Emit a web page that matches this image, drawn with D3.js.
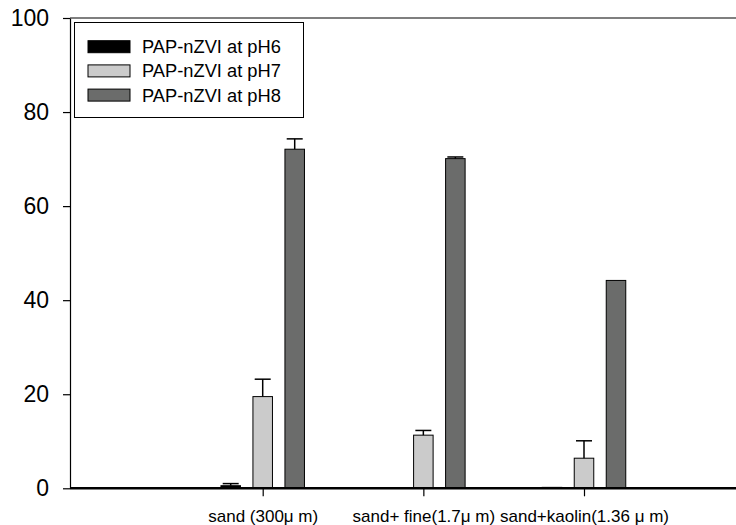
<!DOCTYPE html>
<html>
<head>
<meta charset="utf-8">
<script src="https://cdn.jsdelivr.net/npm/d3@7"></script>
<style>
  html, body { margin: 0; padding: 0; background: #fff; }
  svg { display: block; font-family: "Liberation Sans", Arial, sans-serif; }
</style>
</head>
<body>
<svg id="chart" width="736" height="525"></svg>
<script>
// Soil media and treatment series
const categories = ["sand (300\u03bc m)", "sand+ fine(1.7\u03bc m)", "sand+kaolin(1.36 \u03bc m)"];
const seriesNames = ["PAP-nZVI at pH6", "PAP-nZVI at pH7", "PAP-nZVI at pH8"];
const seriesColors = ["#000000", "#cbcbcb", "#6b6c6b"];
const pH6 = [0.55, 0, 0.2];
const pH7 = [19.5, 11.3, 6.4];
const pH8 = [72.1, 70.1, 44.2];
const pH6Err = [0.45, 0, 0];
const pH7Err = [3.7, 1.0, 3.7];
const pH8Err = [2.2, 0.35, 0];
const yTicks = [0, 20, 40, 60, 80, 100];

const values = [pH6, pH7, pH8];
const errors = [pH6Err, pH7Err, pH8Err];

const svg = d3.select("#chart");
const plotLeft = 70, plotRight = 736, plotTop = 18, plotBottom = 488.3;

const y = d3.scaleLinear().domain([0, 100]).range([plotBottom, plotTop]);
const x = d3.scalePoint().domain(categories).range([262.7, 584]);
const xs = d3.scaleBand().domain(seriesNames).range([-48, 48])
  .paddingInner(0.39).paddingOuter(0.195);

// bars
const rows = [];
seriesNames.forEach((s, si) => {
  categories.forEach((c, ci) => {
    rows.push({ s, si, c, v: values[si][ci], e: errors[si][ci] });
  });
});

const barG = svg.append("g");
barG.selectAll("rect").data(rows.filter(d => d.v > 0)).join("rect")
  .attr("x", d => x(d.c) + xs(d.s))
  .attr("width", xs.bandwidth())
  .attr("y", d => y(d.v))
  .attr("height", d => y(0) - y(d.v))
  .attr("fill", d => seriesColors[d.si])
  .attr("stroke", "#000")
  .attr("stroke-width", 1);

// upward error bars
const errG = svg.append("g").attr("stroke", "#000").attr("stroke-width", 1.5);
const withErr = rows.filter(d => d.e > 0);
errG.selectAll("line.v").data(withErr).join("line").attr("class", "v")
  .attr("x1", d => x(d.c) + xs(d.s) + xs.bandwidth() / 2)
  .attr("x2", d => x(d.c) + xs(d.s) + xs.bandwidth() / 2)
  .attr("y1", d => y(d.v))
  .attr("y2", d => y(d.v + d.e));
errG.selectAll("line.cap").data(withErr).join("line").attr("class", "cap")
  .attr("x1", d => x(d.c) + xs(d.s) + xs.bandwidth() / 2 - 8)
  .attr("x2", d => x(d.c) + xs(d.s) + xs.bandwidth() / 2 + 8)
  .attr("y1", d => y(d.v + d.e))
  .attr("y2", d => y(d.v + d.e));

// y axis
const yAxis = svg.append("g").attr("transform", `translate(${plotLeft},0)`)
  .call(d3.axisLeft(y).tickValues(yTicks).tickSize(7).tickPadding(14).tickSizeOuter(0));
yAxis.select(".domain").attr("stroke", "#000").attr("stroke-width", 1.2);
yAxis.selectAll(".tick line").attr("stroke", "#000").attr("stroke-width", 1.2);
yAxis.selectAll(".tick text").attr("font-size", 23).attr("fill", "#000")
  .attr("font-family", "Liberation Sans, Arial, sans-serif");

// top frame line
svg.append("line").attr("x1", plotLeft).attr("x2", plotRight).attr("y1", plotTop).attr("y2", plotTop)
  .attr("stroke", "#000").attr("stroke-width", 1.2);

// x axis
const xAxis = svg.append("g").attr("transform", `translate(0,${plotBottom})`)
  .call(d3.axisBottom(x).tickSize(8).tickPadding(14).tickSizeOuter(0));
xAxis.select(".domain").attr("d", `M${plotLeft},0H${plotRight}`).attr("stroke", "#000").attr("stroke-width", 2.4);
xAxis.selectAll(".tick line").attr("stroke", "#000").attr("stroke-width", 1.2);
xAxis.selectAll(".tick text").attr("font-size", 17).attr("fill", "#000")
  .attr("font-family", "Liberation Sans, Arial, sans-serif");

// legend
const lg = svg.append("g");
lg.append("rect").attr("x", 74.5).attr("y", 22.5).attr("width", 229).attr("height", 95)
  .attr("fill", "#fff").attr("stroke", "#000").attr("stroke-width", 1);
seriesNames.forEach((s, i) => {
  const cy = 46.7 + i * 24.2;
  lg.append("rect").attr("x", 88).attr("y", cy - 6).attr("width", 42).attr("height", 12)
    .attr("fill", seriesColors[i]).attr("stroke", "#000").attr("stroke-width", 1);
  lg.append("text").attr("x", 142).attr("y", cy).attr("dy", "0.36em")
    .attr("font-size", 18.3).attr("fill", "#000").text(s);
});
</script>
</body>
</html>
